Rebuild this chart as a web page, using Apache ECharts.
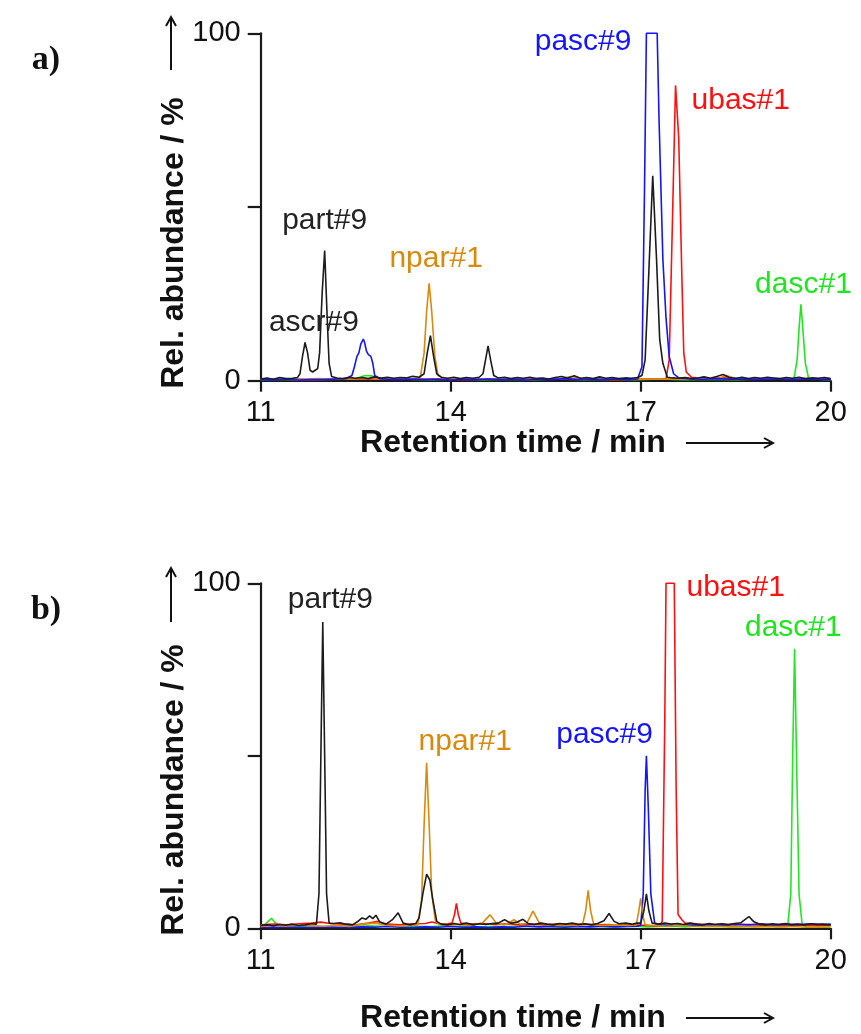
<!DOCTYPE html>
<html lang="en">
<head>
<meta charset="UTF-8">
<script src="https://cdn.jsdelivr.net/npm/echarts@6.0.0/dist/echarts.min.js"></script>
</head>
<body style="margin:0;background:#fff">
<div id="chart" style="width:861px;height:1034px"></div>
<script>
// retention time (min) vs relative abundance (%)
var xTicks = [11, 14, 17, 20];
var yTicks = [0, 50, 100];

// ---- panel a ----
var aBlack = [[11.0,0.5],[11.1,0.8],[11.2,0.4],[11.3,0.9],[11.4,0.6],[11.5,0.7],[11.58,0.9],[11.62,2],[11.66,7],[11.70,11],[11.74,8],[11.78,3],[11.82,2.5],[11.86,3],[11.90,3.5],[11.93,8],[11.97,25],[12.01,37.5],[12.05,18],[12.08,5],[12.12,1.2],[12.2,0.8],[12.3,0.6],[12.4,1.0],[12.5,0.7],[12.6,0.9],[12.7,0.6],[12.8,1.1],[12.9,0.8],[13.0,1.0],[13.1,0.7],[13.2,0.9],[13.3,0.8],[13.4,1.3],[13.5,1.0],[13.58,2],[13.63,8],[13.68,13],[13.73,7],[13.78,2],[13.85,1],[13.95,0.7],[14.05,1.0],[14.15,0.6],[14.25,0.9],[14.35,0.7],[14.45,1.0],[14.51,2],[14.55,6],[14.59,10],[14.63,6],[14.68,1.5],[14.75,0.8],[14.85,1.0],[14.95,0.6],[15.05,0.9],[15.15,0.7],[15.25,1.0],[15.35,0.6],[15.45,0.8],[15.55,0.5],[15.65,0.9],[15.75,1.2],[15.85,0.8],[15.95,1.4],[16.05,0.7],[16.15,0.9],[16.25,0.6],[16.35,1.1],[16.45,0.7],[16.55,0.9],[16.65,0.6],[16.75,0.8],[16.85,0.7],[16.95,0.9],[17.02,1.5],[17.07,6],[17.13,32],[17.19,59],[17.25,35],[17.30,11.8],[17.35,5],[17.42,1],[17.5,0.8],[17.6,0.7],[17.7,0.9],[17.8,0.6],[17.9,0.8],[18.0,1.1],[18.1,0.7],[18.2,1.2],[18.3,1.8],[18.4,0.9],[18.5,0.7],[18.6,1.0],[18.7,0.6],[18.8,0.9],[18.9,0.7],[19.0,1.0],[19.1,0.8],[19.2,0.6],[19.3,0.9],[19.4,0.7],[19.5,1.0],[19.6,0.6],[19.7,0.8],[19.8,0.7],[19.9,0.9],[20.0,0.6]];
var aBlue = [[11.0,0.3],[11.2,0.2],[11.4,0.4],[11.6,0.2],[11.8,0.3],[12.0,0.3],[12.2,0.5],[12.35,0.6],[12.44,1.5],[12.48,4],[12.52,7],[12.55,8],[12.58,10.5],[12.62,12],[12.64,11],[12.67,8.5],[12.70,7.5],[12.74,7],[12.77,5],[12.80,1.5],[12.88,0.6],[13.0,0.4],[13.2,0.3],[13.4,0.5],[13.6,0.3],[13.8,0.4],[14.0,0.2],[14.2,0.4],[14.4,0.3],[14.6,0.5],[14.8,0.3],[15.0,0.4],[15.2,0.2],[15.4,0.4],[15.6,0.3],[15.8,0.6],[16.0,0.3],[16.2,0.4],[16.4,0.3],[16.6,0.5],[16.8,0.3],[16.95,0.5],[17.02,4],[17.06,55],[17.09,100],[17.26,100],[17.29,75],[17.35,35],[17.40,18],[17.45,7],[17.52,2],[17.6,0.8],[17.8,0.5],[18.0,0.4],[18.2,0.6],[18.4,0.4],[18.6,0.5],[18.8,0.3],[19.0,0.5],[19.2,0.4],[19.4,0.3],[19.6,0.5],[19.8,0.4],[20.0,0.3]];
var aOrange = [[11.0,0.4],[11.3,0.5],[11.6,0.3],[11.9,0.6],[12.2,0.4],[12.5,0.5],[12.8,0.7],[13.1,0.4],[13.4,0.6],[13.52,1],[13.58,8],[13.62,20],[13.66,28],[13.70,20],[13.75,7],[13.80,1.5],[13.9,0.6],[14.2,0.5],[14.5,0.4],[14.8,0.6],[15.1,0.4],[15.4,0.5],[15.7,0.4],[15.9,1.2],[16.1,0.5],[16.4,0.4],[16.7,0.6],[17.0,0.4],[17.3,0.5],[17.6,0.4],[17.9,0.6],[18.2,0.5],[18.35,1.5],[18.5,0.6],[18.8,0.4],[19.1,0.6],[19.4,0.5],[19.7,0.7],[20.0,0.5]];
var aGreen = [[11.0,0.3],[11.4,0.4],[11.8,0.3],[12.2,0.4],[12.5,0.6],[12.65,1.5],[12.75,1.4],[12.9,0.5],[13.3,0.4],[13.7,0.3],[14.1,0.5],[14.5,0.3],[14.9,0.4],[15.3,0.3],[15.7,0.5],[16.1,0.3],[16.5,0.4],[16.9,0.3],[17.3,0.5],[17.7,0.3],[18.1,0.4],[18.5,0.3],[18.9,0.5],[19.2,0.4],[19.42,0.6],[19.47,6],[19.50,15],[19.53,22],[19.56,15],[19.60,5],[19.65,0.8],[19.8,0.4],[20.0,0.3]];
var aRed = [[11.0,0.4],[11.4,0.5],[11.8,0.3],[12.2,0.5],[12.6,0.4],[13.0,0.6],[13.4,0.4],[13.8,0.5],[14.2,0.3],[14.6,0.5],[15.0,0.4],[15.4,0.6],[15.8,0.4],[16.2,0.5],[16.6,0.3],[17.0,0.5],[17.3,0.4],[17.40,0.6],[17.45,6],[17.50,45],[17.55,85],[17.60,70],[17.65,30],[17.68,8],[17.72,2.5],[17.8,1],[18.0,0.6],[18.3,0.8],[18.6,0.5],[19.0,0.6],[19.4,0.4],[19.8,0.5],[20.0,0.4]];
var aNotes = [['part#9', 12.01, 46], ['ascr#9', 11.84, 16.8], ['npar#1', 13.77, 35.2], ['pasc#9', 16.09, 97.6], ['ubas#1', 18.58, 80.7], ['dasc#1', 19.57, 27.7]];

// ---- panel b ----
var bBlack = [[11.0,0.8],[11.1,1.0],[11.2,0.7],[11.3,1.1],[11.4,0.9],[11.5,1.2],[11.6,0.8],[11.7,1.0],[11.8,1.3],[11.88,1.2],[11.92,10],[11.95,50],[11.98,88.8],[12.01,50],[12.04,10],[12.08,1.5],[12.15,1.4],[12.25,1.6],[12.35,1.2],[12.45,1.0],[12.55,2.2],[12.6,3],[12.66,2.6],[12.72,3.6],[12.77,2.8],[12.82,3.8],[12.88,1.8],[12.98,1.2],[13.08,2.5],[13.17,4.5],[13.25,1.5],[13.35,1.0],[13.45,1.4],[13.5,3],[13.56,10],[13.62,15.7],[13.67,14],[13.72,8],[13.78,2],[13.85,1.2],[13.95,1.0],[14.05,1.4],[14.15,1.1],[14.25,1.5],[14.35,1.0],[14.45,1.3],[14.55,1.1],[14.65,1.4],[14.75,1.5],[14.85,2.5],[14.95,1.5],[15.05,1.8],[15.14,2.6],[15.22,1.4],[15.32,1.1],[15.42,1.5],[15.52,1.2],[15.62,1.0],[15.72,1.4],[15.82,1.2],[15.92,1.5],[16.02,1.1],[16.12,1.3],[16.22,1.0],[16.32,1.4],[16.42,2.2],[16.50,4.3],[16.58,2.0],[16.66,1.3],[16.76,1.5],[16.86,1.2],[16.94,1.5],[17.0,1.5],[17.05,5],[17.09,10],[17.13,5],[17.18,1.5],[17.28,1.2],[17.38,1.5],[17.48,1.2],[17.58,1.4],[17.68,1.1],[17.78,1.5],[17.88,1.2],[17.98,1.0],[18.08,1.4],[18.18,1.1],[18.28,1.3],[18.38,1.0],[18.48,1.4],[18.58,1.6],[18.65,2.6],[18.71,3.4],[18.78,2.0],[18.88,1.2],[18.98,1.0],[19.08,1.3],[19.18,1.1],[19.28,1.4],[19.38,1.0],[19.48,1.2],[19.58,1.0],[19.68,1.3],[19.78,1.1],[19.88,1.2],[20.0,1.0]];
var bBlue = [[11.0,0.3],[11.2,0.2],[11.4,0.4],[11.6,0.3],[11.8,0.2],[12.0,0.4],[12.2,0.3],[12.4,0.2],[12.6,0.4],[12.8,0.3],[13.0,0.5],[13.2,0.3],[13.4,0.2],[13.6,0.4],[13.8,0.3],[14.0,0.5],[14.2,0.3],[14.4,0.4],[14.6,0.2],[14.8,0.4],[15.0,0.3],[15.2,0.6],[15.4,0.4],[15.6,0.5],[15.8,0.3],[16.0,0.5],[16.2,0.4],[16.4,0.6],[16.6,0.4],[16.8,0.5],[16.95,0.6],[17.0,0.8],[17.04,10],[17.07,40],[17.09,50],[17.12,35],[17.16,10],[17.22,1.5],[17.3,1.0],[17.5,0.8],[17.7,1.0],[17.9,0.8],[18.1,1.1],[18.3,0.9],[18.5,1.2],[18.7,1.0],[18.9,1.3],[19.1,1.0],[19.3,1.2],[19.5,1.1],[19.7,1.3],[19.9,1.1],[20.0,1.2]];
var bOrange = [[11.0,0.5],[11.2,0.8],[11.4,0.6],[11.6,0.9],[11.8,0.7],[12.0,0.6],[12.2,0.8],[12.4,0.5],[12.6,1.2],[12.8,1.5],[13.0,0.9],[13.2,0.7],[13.4,0.9],[13.48,1],[13.54,8],[13.58,30],[13.62,48],[13.66,30],[13.70,10],[13.76,2],[13.82,1.2],[13.95,0.9],[14.1,1.1],[14.3,0.8],[14.5,1.5],[14.62,3.9],[14.72,1.5],[14.85,1.0],[15.0,2.5],[15.1,1.2],[15.2,1.4],[15.30,5],[15.4,1.5],[15.55,1.0],[15.7,0.8],[15.85,1.0],[16.0,0.8],[16.08,1],[16.13,5],[16.17,11],[16.21,5],[16.26,1],[16.4,0.8],[16.6,1.0],[16.8,0.8],[16.93,1],[16.97,5],[17.0,8.7],[17.03,4],[17.07,1],[17.2,0.8],[17.4,0.6],[17.6,0.8],[17.8,0.6],[18.0,0.5],[18.2,0.6],[18.4,0.4],[18.6,0.5],[18.8,0.4],[19.0,0.5],[19.2,0.4],[19.4,0.5],[19.6,0.3],[19.8,0.4],[20.0,0.3]];
var bGreen = [[11.0,0.8],[11.05,0.8],[11.12,2],[11.17,2.9],[11.22,1.8],[11.3,0.8],[11.5,0.6],[11.7,0.7],[11.9,0.5],[12.1,0.6],[12.3,0.8],[12.5,0.6],[12.7,0.7],[12.9,0.6],[13.1,0.5],[13.3,0.7],[13.5,0.6],[13.7,0.5],[13.9,0.7],[14.1,0.5],[14.3,0.6],[14.5,0.4],[14.7,0.6],[14.9,0.5],[15.1,0.7],[15.3,0.5],[15.5,0.6],[15.7,0.4],[15.9,0.6],[16.1,0.5],[16.3,0.6],[16.5,0.4],[16.7,0.5],[16.9,0.6],[17.1,0.4],[17.3,0.5],[17.5,0.6],[17.7,0.4],[17.9,0.6],[18.1,0.5],[18.3,0.6],[18.5,0.4],[18.7,0.5],[18.9,0.6],[19.1,0.5],[19.32,0.5],[19.37,10],[19.40,50],[19.43,81],[19.46,50],[19.50,10],[19.55,1],[19.6,0.6],[19.8,0.8],[20.0,0.7]];
var bRed = [[11.0,1.0],[11.2,1.2],[11.4,1.0],[11.6,1.3],[11.8,1.5],[11.95,1.8],[12.1,1.4],[12.3,1.2],[12.5,1.0],[12.7,1.5],[12.85,2.0],[13.0,1.2],[13.2,1.0],[13.4,1.3],[13.6,1.4],[13.7,1.8],[13.85,1.2],[13.95,1.3],[14.02,1.5],[14.06,4],[14.09,7.2],[14.12,4],[14.16,1.5],[14.3,1.2],[14.5,1.4],[14.7,1.1],[14.9,1.3],[15.1,1.0],[15.3,1.2],[15.5,1.0],[15.7,1.3],[15.9,1.1],[16.1,1.2],[16.3,1.0],[16.5,1.1],[16.7,0.9],[16.9,1.0],[17.1,0.8],[17.3,0.6],[17.34,2],[17.38,60],[17.40,100],[17.53,100],[17.56,40],[17.59,4],[17.65,2.5],[17.7,1.5],[17.9,1.2],[18.1,1.0],[18.3,1.2],[18.5,1.0],[18.7,1.1],[18.9,0.9],[19.1,1.0],[19.3,0.8],[19.5,1.0],[19.7,0.9],[19.9,1.0],[20.0,0.9]];
var bNotes = [['part#9', 12.10, 95.3], ['npar#1', 14.23, 54.1], ['pasc#9', 16.43, 56.2], ['ubas#1', 18.50, 98.8], ['dasc#1', 19.41, 87.2]];

var colors = {black: '#1c1c1c', blue: '#1414ff', red: '#ff1010', green: '#22e622', orange: '#d98a0c'};
var noteColors = {'part#9': '#222', 'ascr#9': '#222', 'npar#1': '#d98a0c', 'pasc#9': '#1414ff', 'ubas#1': '#ff1010', 'dasc#1': '#1ee61e'};

var chart = echarts.init(document.getElementById('chart'));

function line(data, color, idx) {
    return {
        type: 'line', data: data, xAxisIndex: idx, yAxisIndex: idx,
        showSymbol: false, symbol: 'none', animation: false, clip: false,
        lineStyle: {color: color, width: 1.6}
    };
}
function notes(list, idx) {
    return {
        type: 'scatter', xAxisIndex: idx, yAxisIndex: idx, symbolSize: 0, animation: false, z: 5,
        itemStyle: {opacity: 1},
        data: list.map(function (n) {
            return {value: [n[1], n[2]], name: n[0], label: {color: noteColors[n[0]]}};
        }),
        label: {
            show: true, position: 'inside', formatter: '{b}',
            fontFamily: 'Liberation Sans, Arial', fontSize: 30
        }
    };
}
function arrow(x1, y1, x2, y2) {
    var dx = x2 - x1, dy = y2 - y1, len = Math.sqrt(dx * dx + dy * dy);
    var ux = dx / len, uy = dy / len, h = 9, w = 5;
    return [{
        type: 'line', shape: {x1: x1, y1: y1, x2: x2, y2: y2}, style: {stroke: '#111', lineWidth: 2}
    }, {
        type: 'polyline',
        shape: {points: [[x2 - ux * h - uy * w, y2 - uy * h + ux * w], [x2, y2], [x2 - ux * h + uy * w, y2 - uy * h - ux * w]]},
        style: {stroke: '#111', lineWidth: 2, fill: null}
    }];
}
function xAxis(idx) {
    return {
        type: 'value', gridIndex: idx, min: xTicks[0], max: xTicks[xTicks.length - 1], interval: 3,
        splitLine: {show: false},
        axisLine: {onZero: false, lineStyle: {color: '#1a1a1a', width: 2.2}},
        axisTick: {length: 11, lineStyle: {width: 2.2}},
        axisLabel: {fontFamily: 'Liberation Sans, Arial', fontSize: 29, color: '#111', margin: 18}
    };
}
function yAxis(idx) {
    return {
        type: 'value', gridIndex: idx, min: yTicks[0], max: yTicks[yTicks.length - 1], interval: 50,
        splitLine: {show: false},
        axisLine: {show: true, lineStyle: {color: '#1a1a1a', width: 2.2}},
        axisTick: {show: true, length: 13, lineStyle: {width: 2.2}},
        axisLabel: {
            fontFamily: 'Liberation Sans, Arial', fontSize: 29, color: '#111', margin: 20,
            formatter: function (v) { return v === 50 ? '' : String(v); }
        }
    };
}

var titleFont = 'bold 32px "Liberation Sans", Arial';
var graphics = [
    {type: 'text', x: 46, y: 60, style: {text: 'a)', font: 'bold 34px "Liberation Serif", "Times New Roman"', fill: '#111', textAlign: 'center', textVerticalAlign: 'middle'}},
    {type: 'text', x: 46, y: 610, style: {text: 'b)', font: 'bold 34px "Liberation Serif", "Times New Roman"', fill: '#111', textAlign: 'center', textVerticalAlign: 'middle'}},
    {type: 'text', x: 174, y: 243, rotation: Math.PI / 2, style: {text: 'Rel. abundance / %', font: titleFont, fill: '#111', textAlign: 'center', textVerticalAlign: 'middle'}},
    {type: 'text', x: 174, y: 790, rotation: Math.PI / 2, style: {text: 'Rel. abundance / %', font: titleFont, fill: '#111', textAlign: 'center', textVerticalAlign: 'middle'}},
    {type: 'text', x: 513, y: 443, style: {text: 'Retention time / min', font: titleFont, fill: '#111', textAlign: 'center', textVerticalAlign: 'middle'}},
    {type: 'text', x: 513, y: 1018, style: {text: 'Retention time / min', font: titleFont, fill: '#111', textAlign: 'center', textVerticalAlign: 'middle'}}
].concat(arrow(171, 70, 171, 17), arrow(686, 443, 773, 443), arrow(171, 622, 171, 568), arrow(686, 1018, 773, 1018));

var option = {
    backgroundColor: '#fff',
    animation: false,
    grid: [
        {left: 260.7, top: 33.3, width: 570, height: 347.4},
        {left: 260.7, top: 583.3, width: 570, height: 345}
    ],
    xAxis: [xAxis(0), xAxis(1)],
    yAxis: [yAxis(0), yAxis(1)],
    graphic: graphics,
    series: [
        line(aGreen, colors.green, 0), line(aRed, colors.red, 0), line(aOrange, colors.orange, 0),
        line(aBlue, colors.blue, 0), line(aBlack, colors.black, 0), notes(aNotes, 0),
        line(bGreen, colors.green, 1), line(bRed, colors.red, 1), line(bBlue, colors.blue, 1),
        line(bOrange, colors.orange, 1), line(bBlack, colors.black, 1), notes(bNotes, 1)
    ]
};
chart.setOption(option);
</script>
</body>
</html>
